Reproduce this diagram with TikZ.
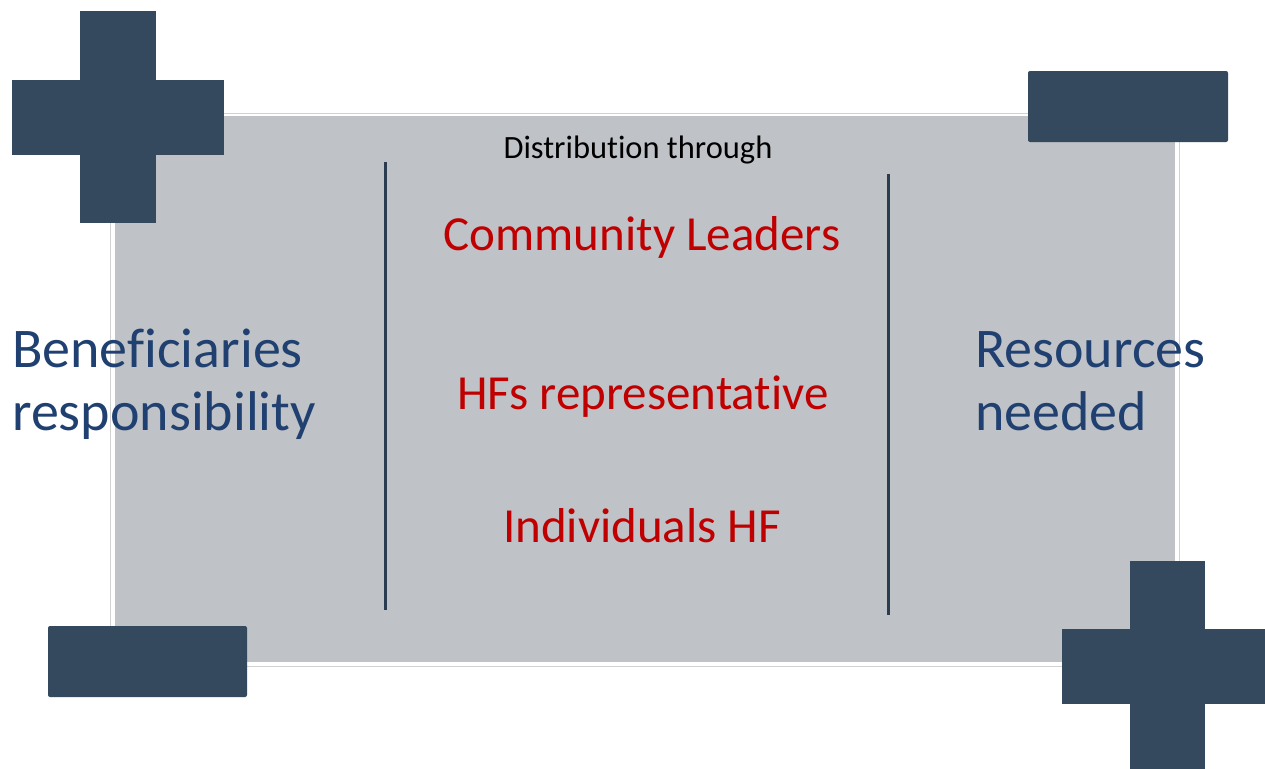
\documentclass[tikz,border=0pt]{standalone}
\usepackage{fontspec}
\setmainfont{Carlito}[Ligatures={NoCommon},RawFeature={-clig;-calt;-dlig}]
\definecolor{navy}{RGB}{52,72,94}
\definecolor{panel}{RGB}{191,194,198}
\definecolor{bluetext}{RGB}{31,64,112}
\definecolor{redtext}{RGB}{192,0,0}
\definecolor{divider}{RGB}{44,60,80}
\begin{document}
\begin{tikzpicture}[x=1pt,y=-1pt,
  shapefill/.style={fill=navy,draw=none},
  bigtext/.style={inner sep=0pt,anchor=base west,text=bluetext,font=\fontsize{56}{63}\selectfont},
  midtext/.style={inner sep=0pt,anchor=base,text=redtext,font=\fontsize{49}{56}\selectfont},
  smalltext/.style={inner sep=0pt,anchor=base,text=black,font=\fontsize{32.5}{36}\selectfont},
  divline/.style={draw=divider,line width=3pt}]
\useasboundingbox (0,0) rectangle (1265,768);
\fill[white] (0,0) rectangle (1265,768);
% panel
\draw[gray!35,line width=1pt] (110,113) rectangle (1179,666);
\fill[panel] (115,116) rectangle (1175,662);
% top-left cross
\fill[shapefill] (80,11) rectangle (156,223);
\fill[shapefill] (12,80) rectangle (224,155);
% bottom-right cross
\fill[shapefill] (1130,561) rectangle (1205,775);
\fill[shapefill] (1062,629) rectangle (1275,704);
% bars
\fill[shapefill,rounded corners=2pt] (1028,71) rectangle (1228,142);
\fill[shapefill,rounded corners=2pt] (48,626) rectangle (247,697);
% dividers
\coordinate (l1) at (385.5,162);
\coordinate (l2) at (385.5,610);
\coordinate (r1) at (888.5,174);
\coordinate (r2) at (888.5,615);
\draw[divline] (l1) -- (l2);
\draw[divline] (r1) -- (r2);
% texts
\node[smalltext] (dist) at (638,158) {Distribution through};
\node[midtext] (comm) at (642,250) {Community Leaders};
\node[midtext] (hfs) at (643,409) {HFs representative};
\node[midtext] (ind) at (642,542) {Individuals HF};
\node[bigtext] (ben1) at (12,367) {Beneficiaries};
\node[bigtext] (ben2) at (12,430) {responsibility};
\node[bigtext] (res1) at (975,367) {Resources};
\node[bigtext] (res2) at (975,430) {needed};
\end{tikzpicture}
\end{document}
